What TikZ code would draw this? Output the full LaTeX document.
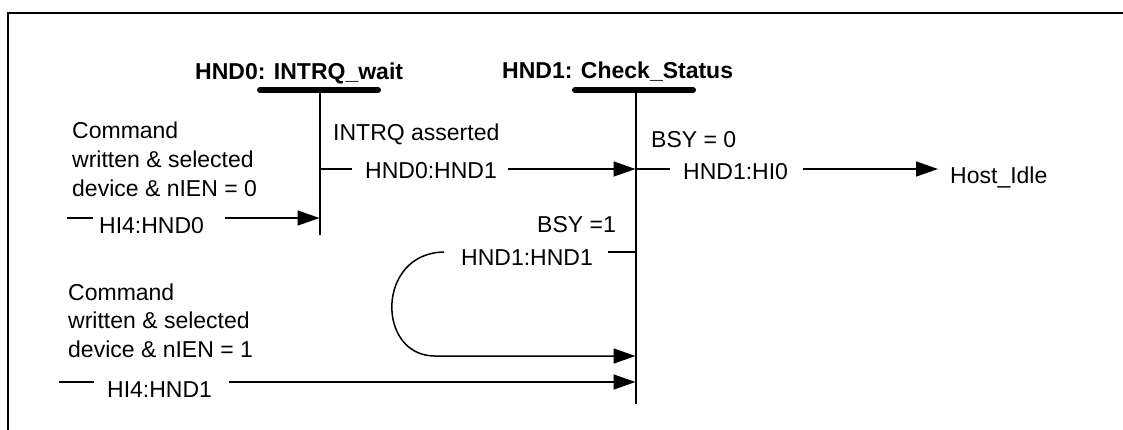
\documentclass[tikz,border=0pt]{standalone}
\usepackage{fontspec}
\setmainfont{Liberation Sans}
\usetikzlibrary{arrows.meta}
\begin{document}
\begin{tikzpicture}[x=1pt,y=-1pt,
  lbl/.style={inner sep=0pt, anchor=base west, font=\fontsize{23}{29}\selectfont},
  ttl/.style={inner sep=0pt, anchor=base west, font=\fontsize{23}{29}\selectfont\bfseries},
  bar/.style={line width=6pt, line cap=round},
  vline/.style={line width=2pt},
  conn/.style={line width=1.5pt},
  arr/.style={conn, -{Triangle[length=22pt,width=15pt]}},
  frame/.style={line width=2pt}]
\useasboundingbox (0,0) rectangle (1123,429);
% frame (top and left sides only)
\draw[frame] (1124,13) -- (7.5,13) -- (7.5,430);

% states
\node[ttl] (t0) at (195,79) {HND0: INTRQ\_wait};
\node[ttl] (t1) at (502,78) {HND1: Check\_Status};
\coordinate (s0top) at (319.5,90);
\coordinate (s0bot) at (319.5,235);
\coordinate (s1top) at (635.5,90);
\coordinate (s1bot) at (635.5,404);
\draw[bar] (260,90) -- (378,90);
\draw[bar] (575,90) -- (693,90);
\draw[vline] (s0top) -- (s0bot);
\draw[vline] (s1top) -- (s1bot);

% points on the state lines
\coordinate (a0) at (319.5,169);
\coordinate (a1) at (635.5,169);
\coordinate (a2) at (319.5,218);
\coordinate (a3) at (635.5,252);
\coordinate (a4) at (635.5,356);
\coordinate (a5) at (635.5,382);

% labels (multi-line nodes: base = baseline of last line)
\node[lbl, align=left] (c0) at (72,196) {Command\\written \& selected\\device \& nIEN = 0};
\node[lbl] (l1) at (333,140) {INTRQ asserted};
\node[lbl] (l2) at (365,178) {HND0:HND1};
\node[lbl] (l3) at (99,233) {HI4:HND0};
\node[lbl] (l4) at (651,147) {BSY = 0};
\node[lbl] (l5) at (683,179) {HND1:HI0};
\node[lbl] (l6) at (950,183) {Host\_Idle};
\node[lbl] (l7) at (537,232) {BSY =1};
\node[lbl] (l8) at (461,265) {HND1:HND1};
\node[lbl, align=left, font=\fontsize{23}{28.5}\selectfont] (c1) at (68,357) {Command\\written \& selected\\device \& nIEN = 1};
\node[lbl] (l9) at (107,397) {HI4:HND1};

% free ends of connectors
\coordinate (g1) at (352,169);
\coordinate (g2) at (508,169);
\coordinate (g3) at (67,218);
\coordinate (g4) at (93,218);
\coordinate (g5) at (225,218);
\coordinate (g6) at (670,169);
\coordinate (g7) at (803,169);
\coordinate (g8) at (938,169);
\coordinate (g9) at (608,252);
\coordinate (g10) at (444,252);
\coordinate (g11) at (435,356);
\coordinate (g12) at (59,382);
\coordinate (g13) at (94,382);
\coordinate (g14) at (229,382);

% connectors
\draw[conn] (a0) -- (g1);
\draw[arr] (g2) -- (a1);
\draw[conn] (g3) -- (g4);
\draw[arr] (g5) -- (a2);
\draw[conn] (a1) -- (g6);
\draw[arr] (g7) -- (g8);
\draw[conn] (g9) -- (a3);
\draw[arr] (g10) .. controls (376,253) and (376,356) .. (g11) -- (a4);
\draw[conn] (g12) -- (g13);
\draw[arr] (g14) -- (a5);
\end{tikzpicture}
\end{document}
